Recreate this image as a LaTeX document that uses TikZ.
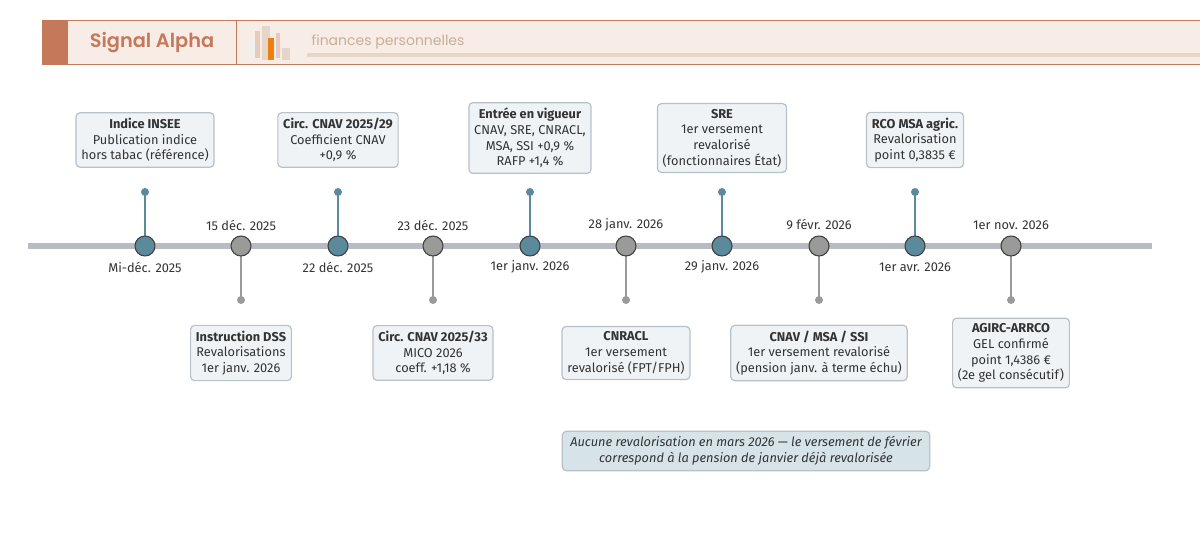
\documentclass[tikz,border=0pt]{standalone}
\usepackage{fontspec}
\setmainfont{Fira Sans}
\newfontfamily\titlefont{Poppins SemiBold}
\newfontfamily\subfont{Poppins}
\definecolor{teal}{HTML}{5A8A9C}
\definecolor{dot}{HTML}{9A9A9A}
\definecolor{axis}{HTML}{B8BCC2}
\definecolor{boxfill}{HTML}{F0F3F6}
\definecolor{boxline}{HTML}{B8C0C8}
\definecolor{notefill}{HTML}{D6E4E9}
\definecolor{brick}{HTML}{C47A5A}
\definecolor{cream}{HTML}{F7ECE6}
\definecolor{sand}{HTML}{E6D6CA}
\definecolor{subtxt}{HTML}{C9AE98}
\definecolor{txt}{HTML}{333333}
\begin{document}
\begin{tikzpicture}[x=0.75pt,y=-0.75pt,
  evbox/.style={draw=boxline,fill=boxfill,rounded corners=3pt,line width=0.9pt,
    align=center,inner sep=4pt,font=\fontsize{9.6}{11.8}\selectfont,text=txt},
  datelbl/.style={font=\fontsize{9.6}{11}\selectfont,text=txt},
  bigdot/.style={circle,draw=black!75,line width=0.8pt,minimum size=15pt,inner sep=0pt},
  smalldot/.style={circle,minimum size=6pt,inner sep=0pt}]
  \useasboundingbox (0,0) rectangle (1200,541);
  % header
  \fill[cream] (42,20) rectangle (1200,64);
  \draw[brick,line width=0.7pt] (1200,20) -- (42,20) -- (42,64) -- (1200,64);
  \fill[brick] (42,20) rectangle (68,64);
  \draw[brick,line width=0.7pt] (236,20) -- (236,64);
  \node[font=\titlefont\fontsize{14.5}{16}\selectfont,text=brick] (title) at (152,43) {Signal Alpha};
  \fill[sand!80!black!20] (250,42) rectangle (258,60);
  \fill[brick!40] (255,31) rectangle (260,58);
  \fill[sand] (262,26) rectangle (270,60);
  \fill[orange!70!brown] (268,38) rectangle (274,60);
  \fill[brick!40] (276,33) rectangle (280,58);
  \fill[sand] (282,48) rectangle (290,60);
  \fill[sand] (307,53) rectangle (1200,57);
  \node[anchor=west,font=\subfont\fontsize{10.5}{12}\selectfont,text=subtxt] (sub) at (307,42) {finances personnelles};
  % axis
  \draw[axis,line width=5pt] (28,246) -- (1152,246);
  % upper events
  \foreach \n/\x/\y/\d/\t in {
    1/145/140/Mi-déc. 2025/{\textbf{Indice INSEE}\\Publication indice\\hors tabac (référence)},
    3/338/140/22 déc. 2025/{\textbf{Circ. CNAV 2025/29}\\Coefficient CNAV\\+0,9 \%},
    5/530/138/1er janv. 2026/{\textbf{Entrée en vigueur}\\CNAV, SRE, CNRACL,\\MSA, SSI +0,9 \%\\RAFP +1,4 \%},
    7/722/138/29 janv. 2026/{\textbf{SRE}\\1er versement\\revalorisé\\(fonctionnaires État)},
    9/915/140/1er avr. 2026/{\textbf{RCO MSA agric.}\\Revalorisation\\point 0,3835 €}} {
    \node[smalldot,fill=teal] (s\n) at (\x,192) {};
    \draw[teal,line width=1.2pt] (s\n.center) -- (\x,246);
    \node[bigdot,fill=teal] (e\n) at (\x,246) {};
    \node[datelbl] (d\n) at (\x,267) {\d};
    \node[evbox] (b\n) at (\x,\y) {\t};
  }
  % lower events
  \foreach \n/\x/\y/\d/\t in {
    2/241/353/15 déc. 2025/{\textbf{Instruction DSS}\\Revalorisations\\1er janv. 2026},
    4/433/353/23 déc. 2025/{\textbf{Circ. CNAV 2025/33}\\MICO 2026\\coeff. +1,18 \%},
    6/626/353/28 janv. 2026/{\textbf{CNRACL}\\1er versement\\revalorisé (FPT/FPH)},
    8/819/353/9 févr. 2026/{\textbf{CNAV / MSA / SSI}\\1er versement revalorisé\\(pension janv. à terme échu)},
    10/1011/353/1er nov. 2026/{\textbf{AGIRC-ARRCO}\\GEL confirmé\\point 1,4386 €\\(2e gel consécutif)}} {
    \node[smalldot,fill=dot] (s\n) at (\x,300) {};
    \draw[dot,line width=1.2pt] (s\n.center) -- (\x,246);
    \node[bigdot,fill=dot] (e\n) at (\x,246) {};
    \node[datelbl] (d\n) at (\x,225) {\d};
    \node[evbox] (b\n) at (\x,\y) {\t};
  }
  % note
  \node[evbox,fill=notefill,font=\fontsize{9.6}{11.8}\selectfont\itshape,inner xsep=6pt] (note) at (746,451)
    {Aucune revalorisation en mars 2026 — le versement de février\\correspond à la pension de janvier déjà revalorisée};
\end{tikzpicture}
\end{document}
